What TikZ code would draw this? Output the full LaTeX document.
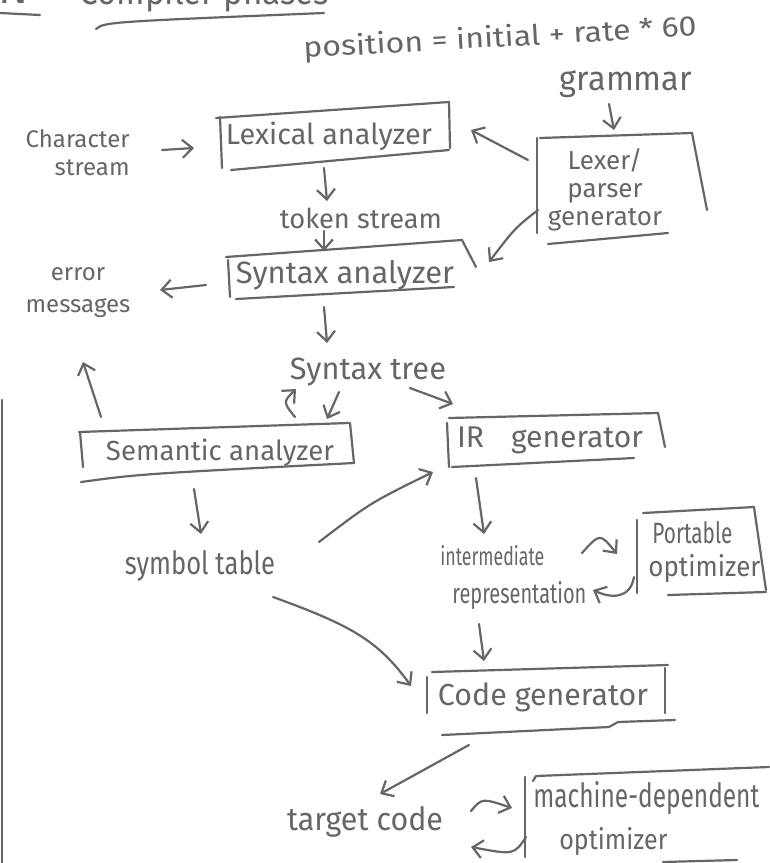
\documentclass[tikz,border=0pt]{standalone}
\usepackage{fontspec}
\setmainfont{Fira Sans}
\usetikzlibrary{arrows.meta}
\definecolor{ink}{gray}{0.40}
\newcommand\fitw[2]{\resizebox{#1}{!}{#2}}
\newcommand\fitwh[3]{\resizebox{#1}{#2}{#3}}
\begin{document}
\begin{tikzpicture}[x=0.5pt,y=-0.5pt, line cap=round, line join=round,
  stroke/.style={draw=ink, line width=1.1pt},
  arr/.style={stroke, -{Straight Barb[length=5pt,width=9pt,line width=1.1pt]}},
  lbl/.style={text=ink, inner sep=0pt, font=\fontsize{12}{14}\selectfont},
]
\useasboundingbox[fill=white] (0,0) rectangle (770,863);
\clip (0,0) rectangle (770,863);

% ---- title (cut off at the top edge)
\node[lbl, anchor=base] (ttlN) at (14,3) {\fontsize{22}{22}\selectfont N};
\node[lbl, anchor=base west] (ttl) at (79,4) {\fitwh{125pt}{14pt}{Compiler phases}};
\draw[stroke] (0,13) -- (40,15);
\draw[stroke] (96,29) .. controls (105,22) .. (324,13);

% ---- labels
\node[lbl, rotate=3.2] (pos) at (500,39) {\fitwh{197pt}{11pt}{position = initial + rate * 60}};
\node[lbl] (gram) at (626,84) {\fitwh{66pt}{10pt}{grammar}};
\node[lbl, align=right, anchor=east] (chs) at (130,153) {Character\\stream};
\node[lbl, align=center, font=\fontsize{12}{16}\selectfont] (err) at (78,293) {error\\messages};
\node[lbl] (tok) at (361,218) {\fitw{81pt}{token stream}};
\node[lbl] (stt) at (368,372) {\fitw{78pt}{Syntax tree}};
\node[lbl] (sym) at (200,566) {\fitwh{75pt}{12pt}{symbol table}};
\node[lbl, align=left, anchor=west, font=\fontsize{12}{19}\selectfont] (imr) at (440,577)
  {\fitwh{52pt}{10pt}{intermediate}\\\hspace{6pt}\fitwh{67pt}{11pt}{representation}};
\node[lbl] (tgt) at (365,822) {\fitwh{78pt}{12pt}{target code}};

% ---- box texts
\node[lbl] (lex) at (329,136) {\fitw{103pt}{Lexical analyzer}};
\node[lbl] (syn) at (345,275) {\fitw{109pt}{Syntax analyzer}};
\node[lbl] (sem) at (220,453) {\fitw{114pt}{Semantic analyzer}};
\node[lbl] (irg) at (550,440) {\fitw{93pt}{IR\hspace{0.9em}generator}};
\node[lbl] (cod) at (543,697) {\fitw{105pt}{Code generator}};
\node[lbl, align=center, font=\fontsize{13}{14}\selectfont] (lpg) at (605,190) {Lexer/\\parser\\generator};
\node[lbl, align=left, anchor=west, font=\fontsize{12}{16.5}\selectfont] (por) at (648,552)
  {\hspace{2pt}\fitwh{40pt}{11pt}{Portable}\\\fitwh{56pt}{11pt}{optimizer}};
\node[lbl, align=left, anchor=west, font=\fontsize{12}{21}\selectfont] (mdo) at (533,818)
  {\fitwh{113pt}{13pt}{machine-dependent}\\\hspace{13pt}\fitwh{54pt}{11pt}{optimizer}};

% ---- hand-drawn boxes
% Lexical analyzer
\draw[stroke] (216,118) -- (449,102);
\draw[stroke] (220,117) -- (222,168);
\draw[stroke] (449,102) -- (450,148);
\draw[stroke] (231,170) -- (449,150);
% Syntax analyzer
\draw[stroke] (226,257) -- (462,240);
\draw[stroke] (462,240) -- (476,267);
\draw[stroke] (228,260) -- (230,297);
\draw[stroke] (236,299) -- (454,287);
% Lexer/parser generator
\draw[stroke] (537,138) -- (537,233);
\draw[stroke] (540,138) -- (692,133);
\draw[stroke] (692,133) -- (707,210);
\draw[stroke] (548,244) -- (668,233);
% Semantic analyzer
\draw[stroke] (79,432) -- (349,423);
\draw[stroke] (80,432) -- (83,467);
\draw[stroke] (350,423) -- (354,463);
\draw[stroke] (81,482) .. controls (140,474) .. (354,463);
% IR generator
\draw[stroke] (449,418) -- (658,413);
\draw[stroke] (447,423) -- (449,467);
\draw[stroke] (658,413) -- (665,447);
\draw[stroke] (452,467) -- (634,458);
% Portable optimizer
\draw[stroke] (637,520) -- (637,593);
\draw[stroke] (643,513) -- (754,507);
\draw[stroke] (754,507) -- (766,590);
\draw[stroke] (668,595) -- (766,592);
% Code generator
\draw[stroke] (432,672) -- (668,665);
\draw[stroke] (427,677) -- (427,713);
\draw[stroke] (665,668) -- (665,713);
\draw[stroke] (442,735) -- (609,727) -- (618,722) -- (675,720);
% machine-dependent optimizer
\draw[stroke] (525,777) -- (525,857);
\draw[stroke] (533,781) -- (536,776) -- (769,767);
\draw[stroke] (663,862) -- (737,860);
% page edge
\draw[stroke] (2,400) -- (2,863);

% ---- connector end points
\coordinate (g1) at (609,104);  \coordinate (g2) at (614,130);
\coordinate (c1) at (162,150);  \coordinate (c2) at (194,148);
\coordinate (l1) at (528,160);  \coordinate (l2) at (471,130);
\coordinate (t1) at (324,168);  \coordinate (t2) at (327,201);
\coordinate (t3) at (324,231);  \coordinate (t4) at (324,251);
\coordinate (p1) at (538,210);  \coordinate (p2) at (489,262);
\coordinate (e1) at (206,285);  \coordinate (e2) at (160,290);
\coordinate (s1) at (324,307);  \coordinate (s2) at (327,343);
\coordinate (u1) at (101,417);  \coordinate (u2) at (83,362);
\coordinate (m1) at (295,417);  \coordinate (m2) at (296,389);
\coordinate (m3) at (339,392);  \coordinate (m4) at (327,419);
\coordinate (i1) at (410,388);  \coordinate (i2) at (453,404);
\coordinate (y1) at (194,489);  \coordinate (y2) at (201,534);
\coordinate (y3) at (319,542);  \coordinate (y4) at (433,472);
\coordinate (r1) at (476,478);  \coordinate (r2) at (484,534);
\coordinate (o1) at (582,553);  \coordinate (o2) at (617,554);
\coordinate (o3) at (634,577);  \coordinate (o4) at (593,590);
\coordinate (k1) at (273,597);  \coordinate (k2) at (411,686);
\coordinate (k3) at (479,624);  \coordinate (k4) at (484,661);
\coordinate (q1) at (469,745);  \coordinate (q2) at (380,794);
\coordinate (w1) at (471,811);  \coordinate (w2) at (512,808);
\coordinate (w3) at (526,837);  \coordinate (w4) at (471,847);

% ---- connectors
\draw[arr] (g1) -- (g2);
\draw[arr] (c1) -- (c2);
\draw[arr] (l1) -- (l2);
\draw[arr] (t1) -- (t2);
\draw[arr] (t3) -- (t4);
\draw[arr] (p1) .. controls (515,228) .. (p2);
\draw[arr] (e1) -- (e2);
\draw[arr] (s1) -- (s2);
\draw[arr] (u1) -- (u2);
\draw[arr] (m1) .. controls (283,402) .. (m2);
\draw[arr] (m3) -- (m4);
\draw[arr] (i1) -- (i2);
\draw[arr] (y1) -- (y2);
\draw[arr] (y3) .. controls (370,503) .. (y4);
\draw[arr] (r1) -- (r2);
\draw[arr] (o1) .. controls (600,533) .. (o2);
\draw[arr] (o3) .. controls (630,600) and (610,598) .. (o4);
\draw[arr] (k1) .. controls (350,625) and (378,640) .. (k2);
\draw[arr] (k3) -- (k4);
\draw[arr] (q1) -- (q2);
\draw[arr] (w1) .. controls (482,798) .. (w2);
\draw[arr] (w3) .. controls (514,855) .. (w4);
\end{tikzpicture}
\end{document}
